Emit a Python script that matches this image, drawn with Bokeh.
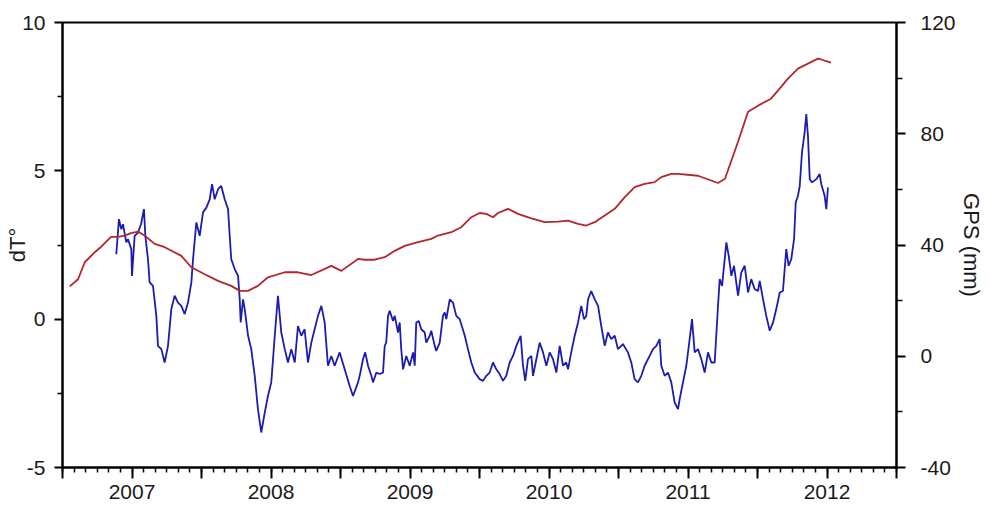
from bokeh.plotting import figure
from bokeh.models import Range1d, LinearAxis, FixedTicker
from bokeh.embed import file_html
from bokeh.resources import INLINE

# ---- data (decimal year) ----
blue_year = [
    2006.887, 2006.906, 2006.923, 2006.935, 2006.959, 2006.971, 2006.995, 2007.000, 2007.019, 2007.043,
    2007.065, 2007.086, 2007.096, 2007.115, 2007.127, 2007.151, 2007.175, 2007.187, 2007.211, 2007.235,
    2007.259, 2007.283, 2007.307, 2007.331, 2007.355, 2007.379, 2007.403, 2007.427, 2007.439, 2007.463,
    2007.487, 2007.511, 2007.535, 2007.559, 2007.576, 2007.595, 2007.619, 2007.642, 2007.667, 2007.691,
    2007.703, 2007.714, 2007.739, 2007.763, 2007.775, 2007.782, 2007.799, 2007.811, 2007.835, 2007.858,
    2007.883, 2007.906, 2007.930, 2007.955, 2007.978, 2008.002, 2008.027, 2008.050, 2008.074, 2008.099,
    2008.122, 2008.146, 2008.171, 2008.194, 2008.218, 2008.242, 2008.266, 2008.290, 2008.314, 2008.338,
    2008.362, 2008.386, 2008.410, 2008.434, 2008.458, 2008.494, 2008.530, 2008.566, 2008.590, 2008.626,
    2008.638, 2008.662, 2008.678, 2008.698, 2008.722, 2008.734, 2008.758, 2008.782, 2008.806, 2008.818,
    2008.829, 2008.842, 2008.854, 2008.878, 2008.890, 2008.914, 2008.926, 2008.937, 2008.950, 2008.973,
    2008.998, 2009.022, 2009.034, 2009.045, 2009.063, 2009.081, 2009.106, 2009.117, 2009.142, 2009.153,
    2009.178, 2009.189, 2009.214, 2009.237, 2009.250, 2009.261, 2009.286, 2009.309, 2009.333, 2009.358,
    2009.394, 2009.417, 2009.441, 2009.466, 2009.501, 2009.525, 2009.549, 2009.573, 2009.597, 2009.621,
    2009.645, 2009.669, 2009.693, 2009.717, 2009.741, 2009.765, 2009.796, 2009.813, 2009.829, 2009.849,
    2009.873, 2009.885, 2009.909, 2009.933, 2009.957, 2009.981, 2010.005, 2010.029, 2010.053, 2010.077,
    2010.101, 2010.124, 2010.137, 2010.160, 2010.185, 2010.209, 2010.232, 2010.252, 2010.268, 2010.281,
    2010.304, 2010.329, 2010.353, 2010.376, 2010.401, 2010.424, 2010.448, 2010.473, 2010.496, 2010.532,
    2010.568, 2010.592, 2010.616, 2010.640, 2010.664, 2010.688, 2010.724, 2010.748, 2010.772, 2010.796,
    2010.808, 2010.832, 2010.856, 2010.880, 2010.904, 2010.928, 2010.940, 2010.964, 2010.988, 2011.012,
    2011.029, 2011.048, 2011.072, 2011.096, 2011.120, 2011.144, 2011.168, 2011.192, 2011.216, 2011.228,
    2011.245, 2011.264, 2011.276, 2011.293, 2011.312, 2011.331, 2011.360, 2011.383, 2011.408, 2011.432,
    2011.455, 2011.480, 2011.504, 2011.516, 2011.540, 2011.563, 2011.588, 2011.612, 2011.635, 2011.660,
    2011.683, 2011.707, 2011.724, 2011.743, 2011.763, 2011.775, 2011.791, 2011.804, 2011.820, 2011.839,
    2011.851, 2011.863, 2011.876, 2011.892, 2011.923, 2011.947, 2011.959, 2011.983, 2011.995, 2012.007,
]
blue_dt = [
    2.19, 3.37, 3.03, 3.20, 2.59, 2.70, 2.36, 1.46, 2.81, 2.92,
    3.20, 3.71, 2.81, 2.02, 1.24, 1.12, 0.11, -0.90, -1.01, -1.46,
    -0.90, 0.34, 0.79, 0.56, 0.45, 0.17, 0.56, 1.24, 2.02, 3.26,
    2.81, 3.60, 3.76, 4.04, 4.55, 4.04, 4.38, 4.49, 4.04, 3.71,
    2.81, 2.02, 1.69, 1.46, 0.67, -0.11, 0.67, 0.34, -0.56, -1.01,
    -1.91, -3.03, -3.82, -3.15, -2.59, -2.13, -0.56, 0.79, -0.45, -1.01,
    -1.46, -1.01, -1.46, -0.23, -0.56, -0.34, -1.46, -0.79, -0.34, 0.11,
    0.45, -0.11, -1.57, -1.24, -1.57, -1.12, -1.69, -2.25, -2.59, -2.13,
    -1.91, -1.35, -1.12, -1.57, -1.91, -2.13, -1.80, -1.85, -1.80, -0.90,
    -0.79, 0.11, 0.28, -0.06, 0.11, -0.45, -0.11, -1.01, -1.69, -1.24,
    -1.57, -1.12, -1.57, -0.11, -0.06, -0.34, -0.45, -0.79, -0.56, -0.39,
    -0.90, -1.07, -0.79, 0.11, 0.23, 0.00, 0.67, 0.56, 0.11, 0.00,
    -0.56, -1.01, -1.46, -1.80, -2.02, -2.08, -1.91, -1.80, -1.46, -1.69,
    -1.85, -2.08, -1.91, -1.46, -1.24, -0.90, -0.56, -1.57, -2.08, -1.35,
    -1.24, -1.91, -1.35, -0.79, -1.12, -1.57, -1.12, -1.35, -1.80, -0.90,
    -1.57, -1.46, -1.69, -1.12, -0.56, -0.11, 0.45, 0.00, 0.11, 0.67,
    0.95, 0.67, 0.45, -0.23, -0.90, -0.45, -0.67, -0.56, -1.01, -0.84,
    -1.12, -1.46, -2.02, -2.13, -1.91, -1.57, -1.24, -1.01, -0.90, -0.67,
    -1.57, -1.91, -1.80, -2.13, -2.81, -3.03, -2.70, -2.13, -1.57, -0.67,
    0.00, -1.12, -1.01, -1.35, -1.80, -1.12, -1.46, -1.46, 0.45, 1.35,
    1.12, 2.02, 2.59, 2.13, 1.46, 1.80, 0.79, 1.57, 1.80, 0.90,
    1.35, 1.01, 0.95, 1.29, 0.67, 0.11, -0.39, -0.11, 0.34, 0.90,
    0.95, 2.36, 1.80, 2.02, 2.70, 3.93, 4.16, 4.49, 5.62, 6.29,
    6.91, 6.18, 4.72, 4.61, 4.72, 4.89, 4.55, 4.16, 3.71, 4.44,
]

red_year = [
    2006.552, 2006.612, 2006.660, 2006.732, 2006.777, 2006.849, 2006.899, 2006.947, 2006.993, 2007.043,
    2007.091, 2007.163, 2007.235, 2007.355, 2007.427, 2007.523, 2007.619, 2007.714, 2007.775, 2007.835,
    2007.906, 2007.978, 2008.099, 2008.194, 2008.290, 2008.434, 2008.506, 2008.626, 2008.674, 2008.746,
    2008.818, 2008.890, 2008.962, 2009.058, 2009.153, 2009.201, 2009.297, 2009.369, 2009.441, 2009.501,
    2009.549, 2009.597, 2009.633, 2009.705, 2009.777, 2009.873, 2009.969, 2010.065, 2010.137, 2010.209,
    2010.268, 2010.329, 2010.401, 2010.473, 2010.545, 2010.616, 2010.688, 2010.760, 2010.808, 2010.880,
    2010.928, 2011.072, 2011.216, 2011.266, 2011.360, 2011.432, 2011.504, 2011.597, 2011.647, 2011.719,
    2011.791, 2011.863, 2011.935, 2011.957, 2012.029,
]
red_gps = [
    25.1, 27.7, 33.8, 37.4, 39.3, 42.9, 42.9, 43.4, 44.3, 44.8,
    43.4, 40.4, 39.2, 36.1, 32.0, 29.5, 27.1, 25.3, 23.5, 23.5,
    25.3, 28.4, 30.2, 30.2, 29.2, 32.5, 30.7, 35.0, 34.7, 34.7,
    35.6, 37.9, 39.7, 41.0, 42.2, 43.4, 44.6, 46.4, 50.0, 51.5,
    51.2, 50.0, 51.5, 53.0, 51.2, 49.6, 48.2, 48.4, 48.8, 47.6,
    47.0, 48.2, 50.6, 53.0, 57.2, 60.8, 62.0, 62.6, 64.4, 65.6,
    65.6, 64.9, 62.3, 63.8, 77.1, 87.9, 90.1, 92.6, 95.5, 99.8,
    103.4, 105.2, 107.0, 106.7, 105.6,
]

year_labels = ["2007", "2008", "2009", "2010", "2011", "2012"]
left_ticks = [-5, 0, 5, 10]
left_labels = ["-5", "0", "5", "10"]
right_ticks = [-40, 0, 40, 80, 120]
right_labels = ["-40", "0", "40", "80", "120"]
left_title = "dT°"
right_title = "GPS (mm)"

# ---- figure ----
FONT = "Liberation Sans"
TXT = "#1a1a1a"

p = figure(width=987, height=511,
           x_range=Range1d(2006.5, 2012.5), y_range=Range1d(-5, 10),
           output_backend="svg", toolbar_location=None,
           min_border_left=62, min_border_right=91, min_border_top=22, min_border_bottom=44)
p.extra_y_ranges = {"gps": Range1d(-40, 120)}
p.xgrid.visible = False
p.ygrid.visible = False
p.outline_line_color = "black"
p.outline_line_width = 2
p.background_fill_color = "white"
p.border_fill_color = "white"

p.line(blue_year, blue_dt, line_color="#1c1cb0", line_width=1.8)
p.line(red_year, red_gps, line_color="#b3262c", line_width=1.8, y_range_name="gps")

def style(ax):
    ax.axis_line_width = 2
    ax.axis_line_color = "black"
    ax.major_tick_line_width = 2
    ax.minor_tick_line_width = 1.5
    ax.major_tick_in = 0
    ax.minor_tick_in = 0
    ax.major_label_text_font = FONT
    ax.major_label_text_font_size = "21px"
    ax.major_label_text_color = TXT
    ax.axis_label_text_font = FONT
    ax.axis_label_text_font_size = "22px"
    ax.axis_label_text_font_style = "normal"
    ax.axis_label_text_color = TXT

# bottom axis
xa = p.xaxis[0]
style(xa)
major_x = [2006.5 + 0.5 * i for i in range(13)]
minor_x = [2006.5 + k / 12 for k in range(73)]
xa.ticker = FixedTicker(ticks=major_x, minor_ticks=minor_x)
overrides = {t: "" for t in major_x}
for i, lab in enumerate(year_labels):
    overrides[2007 + i] = lab
xa.major_label_overrides = overrides
xa.major_tick_out = 11
xa.minor_tick_out = 5
xa.major_label_standoff = 6

# left axis
ya = p.yaxis[0]
style(ya)
ya.ticker = FixedTicker(ticks=left_ticks, minor_ticks=[-2.5, 2.5, 7.5])
ya.major_label_overrides = dict(zip(left_ticks, left_labels))
ya.axis_label = left_title
ya.major_tick_out = 8
ya.minor_tick_out = 5
ya.major_label_standoff = 9
ya.axis_label_standoff = -11

# right axis
ra = LinearAxis(y_range_name="gps", axis_label=right_title)
style(ra)
ra.ticker = FixedTicker(ticks=right_ticks, minor_ticks=[-20, 20, 60, 100])
ra.major_label_overrides = dict(zip(right_ticks, right_labels))
ra.major_tick_out = 9
ra.minor_tick_out = 6
ra.major_label_standoff = 15
ra.axis_label_standoff = 0
p.add_layout(ra, "right")

open("out.html", "w").write(file_html(p, INLINE))
